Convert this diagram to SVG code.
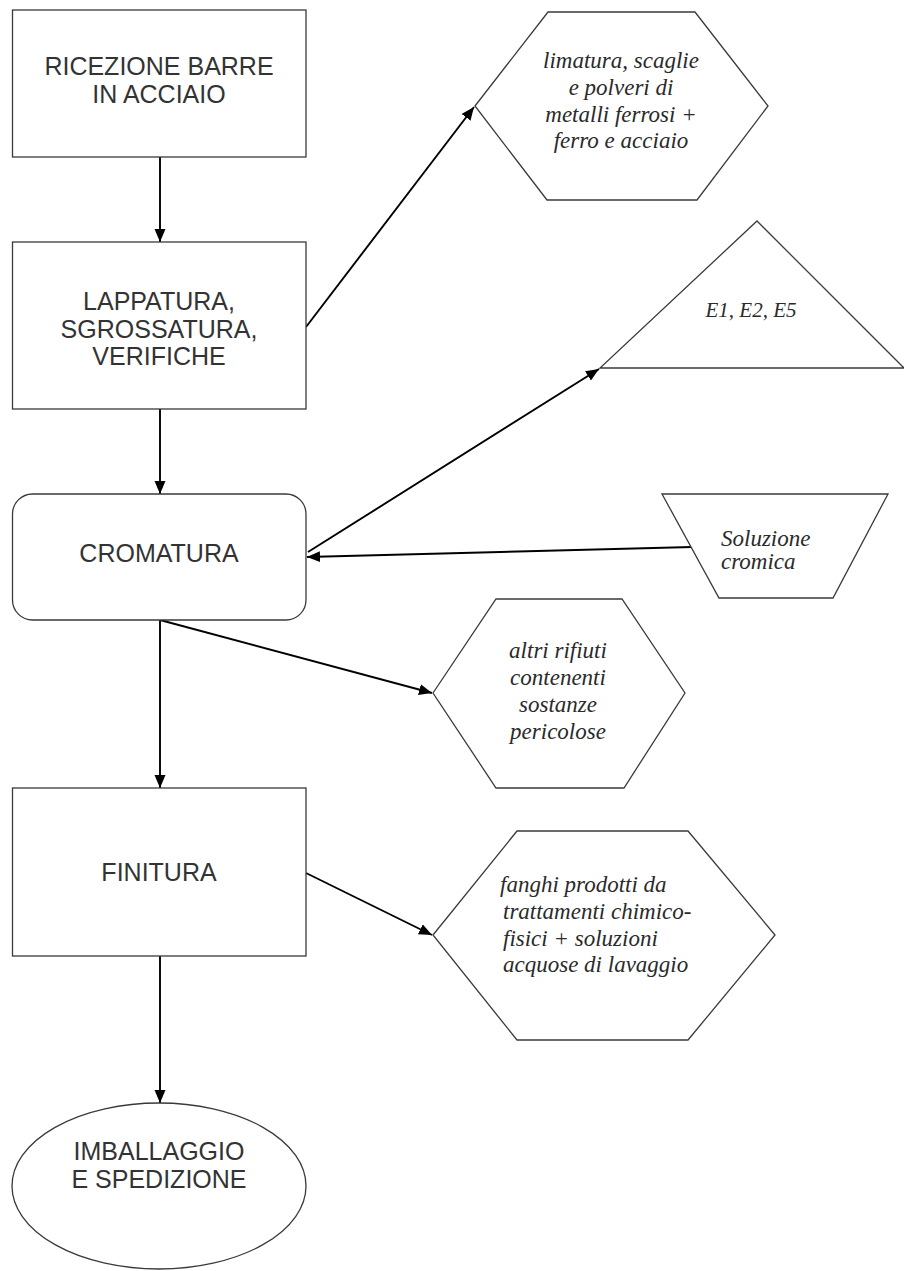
<svg xmlns="http://www.w3.org/2000/svg" width="904" height="1271" viewBox="0 0 904 1271">
<style>
  .shape { fill: #ffffff; stroke: #3a3a3a; stroke-width: 1.3; }
  .proc { font-family: "Liberation Sans", Arial, sans-serif; font-size: 25px; fill: #333333; text-anchor: middle; }
  .note { font-family: "Liberation Serif", "Times New Roman", serif; font-style: italic; font-size: 23px; fill: #2a2a2a; }
  .mid { text-anchor: middle; }
  .conn { stroke: #000000; stroke-width: 1.9; fill: none; marker-end: url(#arrow); }
</style>
<defs>
  <marker id="arrow" markerUnits="userSpaceOnUse" markerWidth="14" markerHeight="12" refX="13" refY="5.5" orient="auto">
    <path d="M0,0 L13,5.5 L0,11 Z" fill="#000000"/>
  </marker>
</defs>
<rect width="904" height="1271" fill="#ffffff"/>

<g id="connectors">
  <line class="conn" x1="160" y1="157" x2="160" y2="242"/>
  <line class="conn" x1="160" y1="409" x2="160" y2="494"/>
  <line class="conn" x1="160" y1="620" x2="160" y2="788"/>
  <line class="conn" x1="160" y1="956" x2="160" y2="1103"/>
  <line class="conn" x1="306" y1="327" x2="474" y2="107"/>
  <line class="conn" x1="308" y1="552" x2="599" y2="369"/>
  <line class="conn" x1="692" y1="547" x2="307" y2="557"/>
  <line class="conn" x1="160" y1="620" x2="432" y2="693"/>
  <line class="conn" x1="306" y1="873" x2="432" y2="935"/>
</g>

<g id="ricezione">
  <rect class="shape" x="12.5" y="10" width="293.5" height="147"/>
  <text class="proc" x="159" y="75">RICEZIONE BARRE</text>
  <text class="proc" x="159" y="103">IN ACCIAIO</text>
</g>

<g id="lappatura">
  <rect class="shape" x="12.5" y="242" width="293.5" height="167"/>
  <text class="proc" x="159" y="310">LAPPATURA,</text>
  <text class="proc" x="159" y="338">SGROSSATURA,</text>
  <text class="proc" x="159" y="365">VERIFICHE</text>
</g>

<g id="cromatura">
  <rect class="shape" x="12.5" y="494" width="293.5" height="126" rx="20" ry="20"/>
  <text class="proc" x="159" y="562">CROMATURA</text>
</g>

<g id="finitura">
  <rect class="shape" x="12.5" y="788" width="293.5" height="168"/>
  <text class="proc" x="159" y="881">FINITURA</text>
</g>

<g id="imballaggio">
  <ellipse class="shape" cx="159" cy="1186" rx="147" ry="83"/>
  <text class="proc" x="159" y="1160">IMBALLAGGIO</text>
  <text class="proc" x="159" y="1188">E SPEDIZIONE</text>
</g>

<g id="limatura">
  <polygon class="shape" points="475,106 548,12 695,12 768,106 697,200 547,200"/>
  <text class="note mid" x="621" y="68">limatura, scaglie</text>
  <text class="note mid" x="621" y="95">e polveri di</text>
  <text class="note mid" x="621" y="122">metalli ferrosi +</text>
  <text class="note mid" x="621" y="148">ferro e acciaio</text>
</g>

<g id="emissioni">
  <polygon class="shape" points="757,221 904,368 600,368"/>
  <text class="note mid" x="751" y="317" style="font-size:21px">E1, E2,  E5</text>
</g>

<g id="soluzione">
  <polygon class="shape" points="662,494 888,494 833,598 719,598"/>
  <text class="note" x="721" y="546">Soluzione</text>
  <text class="note" x="721" y="569">cromica</text>
</g>

<g id="altri-rifiuti">
  <polygon class="shape" points="433,693 496,599 622,599 685,693 624,788 496,788"/>
  <text class="note mid" x="558" y="658">altri rifiuti</text>
  <text class="note mid" x="558" y="685">contenenti</text>
  <text class="note mid" x="558" y="712">sostanze</text>
  <text class="note mid" x="558" y="739">pericolose</text>
</g>

<g id="fanghi">
  <polygon class="shape" points="433,935 517,831 688,831 775,935 688,1040 517,1040"/>
  <text class="note" x="500" y="892">fanghi prodotti da</text>
  <text class="note" x="503" y="919">trattamenti chimico-</text>
  <text class="note" x="503" y="946">fisici +  soluzioni</text>
  <text class="note" x="503" y="972">acquose di lavaggio</text>
</g>
</svg>
